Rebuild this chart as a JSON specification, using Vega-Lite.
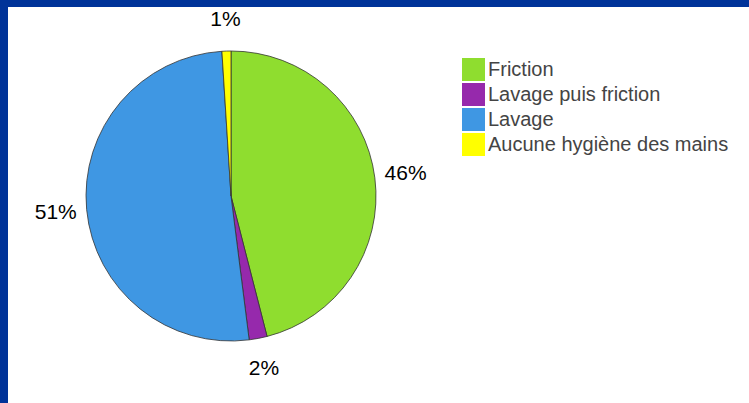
{
  "$schema": "https://vega.github.io/schema/vega-lite/v6.json",
  "background": "#003399",
  "padding": {"left": 8, "top": 7, "right": 0, "bottom": 0},
  "spacing": 0,
  "config": {
    "view": {"fill": "white", "stroke": null},
    "concat": {"spacing": 0},
    "font": "Liberation Sans"
  },
  "vconcat": [
    {
      "spacing": 0,
      "hconcat": [
        {
          "width": 446,
          "height": 378,
          "view": {"fill": "white", "stroke": null},
          "data": {
            "values": [
              {"method": "Friction", "share": 46, "label": "46%", "rank": 1},
              {"method": "Lavage puis friction", "share": 2, "label": "2%", "rank": 2},
              {"method": "Lavage", "share": 51, "label": "51%", "rank": 3},
              {"method": "Aucune hygiène des mains", "share": 1, "label": "1%", "rank": 4}
            ]
          },
          "encoding": {
            "theta": {"field": "share", "type": "quantitative", "stack": true},
            "order": {"field": "rank", "type": "quantitative"},
            "color": {
              "field": "method",
              "type": "nominal",
              "sort": ["Friction", "Lavage puis friction", "Lavage", "Aucune hygiène des mains"],
              "scale": {
                "domain": ["Friction", "Lavage puis friction", "Lavage", "Aucune hygiène des mains"],
                "range": ["#8fdd2f", "#9629ac", "#3f97e3", "#ffff00"]
              },
              "legend": {
                "orient": "none",
                "legendX": 454,
                "legendY": 51,
                "title": null,
                "symbolType": "square",
                "symbolSize": 529,
                "symbolStrokeWidth": 0,
                "symbolOpacity": 1,
                "labelFontSize": 20,
                "labelColor": "#444444",
                "labelFont": "Liberation Sans",
                "rowPadding": 2,
                "labelOffset": 3,
                "padding": 0,
                "labelLimit": 400
              }
            }
          },
          "layer": [
            {"mark": {"type": "arc", "outerRadius": 145, "stroke": "#333333", "strokeWidth": 0.8}},
            {
              "mark": {"type": "text", "radius": 176, "fontSize": 21, "font": "Liberation Sans"},
              "encoding": {
                "text": {"field": "label", "type": "nominal"},
                "fill": {"value": "#000000"}
              }
            }
          ]
        },
        {
          "width": 295,
          "height": 378,
          "view": {"fill": "white", "stroke": null},
          "data": {"values": [{}]},
          "mark": {"type": "rect", "fill": "white", "strokeWidth": 0},
          "encoding": {}
        }
      ]
    },
    {
      "width": 741,
      "height": 18,
      "view": {"fill": "white", "stroke": null},
      "data": {"values": [{}]},
      "mark": {"type": "rect", "fill": "white", "strokeWidth": 0},
      "encoding": {}
    }
  ]
}
